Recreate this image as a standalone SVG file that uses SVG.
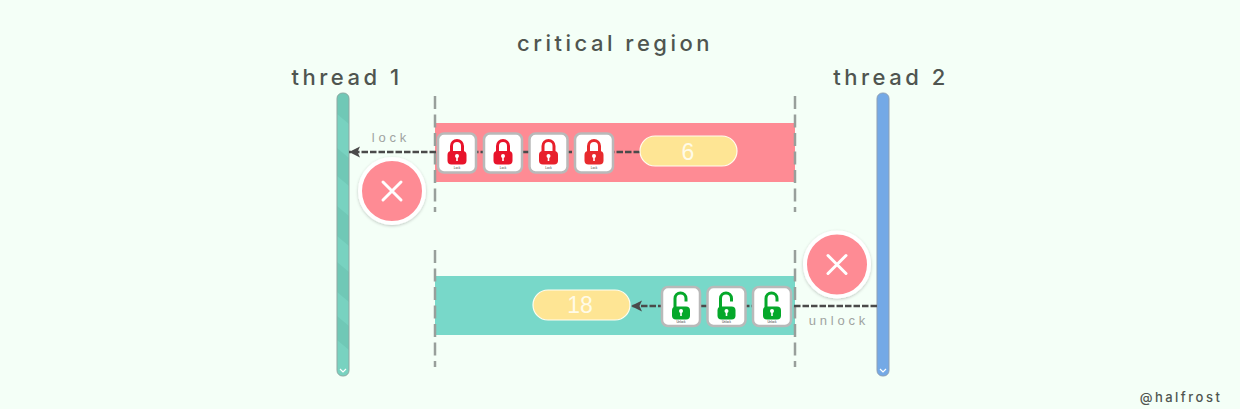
<svg xmlns="http://www.w3.org/2000/svg" width="1240" height="409" viewBox="0 0 1240 409">
<style>
.t{font-family:"Inter","Liberation Sans",sans-serif;fill:#4f5550;font-weight:500}
.h{font-size:22px;letter-spacing:3.5px;text-anchor:middle}
.s{font-size:13px;letter-spacing:3.8px;fill:#a0a3a1;text-anchor:middle;font-family:"Liberation Sans",sans-serif}
.v{font-size:23px;fill:#fffbe8;text-anchor:middle;font-family:"Liberation Sans",sans-serif}
.g{stroke:#989f9b;stroke-width:2.5;stroke-dasharray:13 5.500;fill:none}
.c{stroke:#4a4a4a;stroke-width:2.600;stroke-dasharray:6.500 2;fill:none}
.tile{fill:#fff;stroke:#b9b9b9;stroke-width:2.500}
.pill{fill:#fee594;stroke:#fffdf0;stroke-width:1.200}
.x{stroke:#fff;stroke-width:3;stroke-linecap:round}
.cap{font-size:3px;fill:#333;text-anchor:middle;font-family:"Liberation Sans",sans-serif}
.chev{fill:none;stroke:#fff;stroke-width:1.200}
</style>
<defs>
<marker id="ah" markerUnits="userSpaceOnUse" markerWidth="12" markerHeight="12" refX="11" refY="6" orient="auto"><path d="M0 .5 L11 6 L0 11.500 L2.500 6 Z" fill="#4a4a4a"/></marker>
<g id="lock"><rect class="tile" x="-19" y="-19.500" width="38" height="39" rx="6"/><path d="M-5.500 -1 V-7 a5.500 5.500 0 0 1 11 0 V-1" fill="none" stroke="currentColor" stroke-width="3"/><rect x="-9.500" y="-2" width="19" height="13.500" rx="4" fill="currentColor"/><circle cy="3" r="2" fill="#fff"/><rect x="-.8" y="3" width="1.600" height="5" fill="#fff"/><text class="cap" y="15.500">Lock</text></g>
<g id="unlock"><rect class="tile" x="-19" y="-19.500" width="38" height="39" rx="6"/><path d="M-6 1 V-8 a5.500 5.500 0 0 1 11 0 V-5" fill="none" stroke="currentColor" stroke-width="3"/><rect x="-9" y="0" width="18" height="13" rx="4" fill="currentColor"/><circle cy="4.500" r="2" fill="#fff"/><rect x="-.8" y="4.500" width="1.600" height="5" fill="#fff"/><text class="cap" y="16.500">Unlock</text></g>
<filter id="sh" x="-20%" y="-20%" width="140%" height="140%"><feDropShadow dx="0" dy="1" stdDeviation="1.500" flood-color="#000" flood-opacity=".22"/></filter>
<clipPath id="bar"><rect x="337" y="93" width="12" height="283" rx="5.500"/></clipPath>
</defs>
<rect width="1240" height="409" fill="#f4fff7"/>
<text class="t h" x="615" y="51">critical region</text>
<text class="t h" x="347" y="85">thread 1</text>
<text class="t h" x="891" y="85">thread 2</text>
<g id="thread1"><rect x="337" y="93" width="12" height="283" rx="5.500" fill="#78d2c0"/><path clip-path="url(#bar)" d="M337 93 H349 V124 L337 114 Z M337 148 L349 158 V186 L337 176 Z M337 206 L349 216 V246 L337 236 Z M337 262 L349 272 V302 L337 292 Z M337 316 L349 326 V350 L337 340 Z" fill="#70c8b6"/><rect x="337" y="93" width="12" height="283" rx="5.500" fill="none" stroke="#8fa8a2"/><path class="chev" d="M340 369 L343 372 L346 369"/></g>
<g id="thread2"><rect x="877" y="93" width="12" height="283" rx="5.500" fill="#74a9e6" stroke="#8d9fb5"/><path class="chev" d="M880 369 L883 372 L886 369"/></g>
<g id="region-top"><rect x="435" y="123" width="360" height="59" fill="#fe8b94"/></g>
<g id="region-bottom"><rect x="435" y="276" width="360" height="59" fill="#78d8c9"/></g>
<g id="guides"><path class="g" d="M435 96 V212"/><path class="g" d="M795 96 V212"/><path class="g" d="M435 250 V367"/><path class="g" d="M795 250 V367"/></g>
<g id="connectors">
<path class="c" d="M640 152 H349" marker-end="url(#ah)"/>
<path class="c" d="M877 306 H631" marker-end="url(#ah)"/>
</g>
<text class="s" x="391" y="142">lock</text>
<text class="s" x="839" y="325">unlock</text>
<g id="locks" style="color:#e8132b">
<use href="#lock" x="457" y="153"/><use href="#lock" x="503" y="153"/><use href="#lock" x="548.500" y="153" style="color:#e8202c"/><use href="#lock" x="594" y="153" style="color:#e82a2e"/>
</g>
<g id="unlocks" style="color:#05a82a">
<use href="#unlock" x="681" y="306.500"/><use href="#unlock" x="726.500" y="306.500"/><use href="#unlock" x="772" y="306.500"/>
</g>
<g id="value-6"><rect class="pill" x="640" y="136" width="97" height="30" rx="15"/><text class="v" x="688" y="160">6</text></g>
<g id="value-18"><rect class="pill" x="533" y="290" width="97" height="30" rx="15"/><text class="v" x="580" y="313">18</text></g>
<g id="fail-1"><circle cx="392" cy="191" r="32" fill="#fe8b94" stroke="#fff" stroke-width="4" filter="url(#sh)"/><path class="x" d="M383 182 L401 200 M401 182 L383 200"/></g>
<g id="fail-2"><circle cx="837" cy="264.500" r="32" fill="#fe8b94" stroke="#fff" stroke-width="4" filter="url(#sh)"/><path class="x" d="M828 255.500 L846 273.500 M846 255.500 L828 273.500"/></g>
<text x="1181" y="402" font-family="Inter,'Liberation Sans',sans-serif" font-size="13" font-weight="500" letter-spacing="2.500" fill="#4f5550" text-anchor="middle">@halfrost</text>
</svg>
